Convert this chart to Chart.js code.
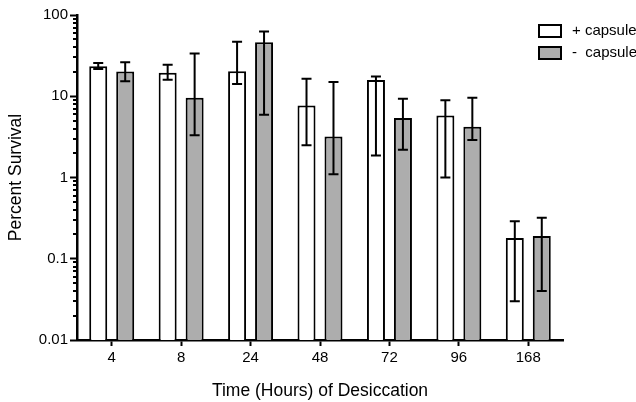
<!DOCTYPE html>
<html>
<head>
<meta charset="utf-8">
<script src="https://cdn.jsdelivr.net/npm/chart.js@4"></script>
<style>
  html, body { margin: 0; padding: 0; background: #fff; }
  #wrap { width: 636px; height: 402px; }
</style>
</head>
<body>
<div id="wrap"><canvas id="Grafica" width="636" height="402"></canvas></div>
<script>
// values (percent survival, log scale)
const hours = ['4', '8', '24', '48', '72', '96', '168'];
const plusMean = [23.4, 19.4, 20.3, 7.7, 15.9, 5.8, 0.18];
const plusHigh = [25.7, 24.5, 46.7, 16.4, 17.5, 8.9, 0.29];
const plusLow = [21.7, 16.0, 14.2, 2.5, 1.86, 1.0, 0.030];
const minusMean = [20.1, 9.6, 46.2, 3.2, 5.4, 4.2, 0.19];
const minusHigh = [26.2, 33.5, 62.5, 15.0, 9.3, 9.6, 0.32];
const minusLow = [15.3, 3.3, 5.9, 1.1, 2.2, 2.9, 0.040];
const decades = [0.01, 0.1, 1, 10, 100];

const FONT = '"Liberation Sans", Arial, Helvetica, sans-serif';

// error bars drawn on top of the bars
const errorBars = {
    id: 'errorBars',
    afterDatasetsDraw(chart) {
        const ctx = chart.ctx;
        const y = chart.scales.y;
        chart.data.datasets.forEach((ds, i) => {
            const meta = chart.getDatasetMeta(i);
            meta.data.forEach((bar, j) => {
                const top = y.getPixelForValue(ds.errHigh[j]);
                const bot = y.getPixelForValue(ds.errLow[j]);
                ctx.save();
                ctx.strokeStyle = '#000';
                ctx.lineWidth = 2;
                ctx.beginPath();
                ctx.moveTo(bar.x, top);
                ctx.lineTo(bar.x, bot);
                ctx.moveTo(bar.x - 5, top);
                ctx.lineTo(bar.x + 5, top);
                ctx.moveTo(bar.x - 5, bot);
                ctx.lineTo(bar.x + 5, bot);
                ctx.stroke();
                ctx.restore();
            });
        });
    }
};

// short minor ticks 2..9 in each decade on the y axis
const minorTicks = {
    id: 'minorTicks',
    afterDraw(chart) {
        const ctx = chart.ctx;
        const y = chart.scales.y;
        const x0 = chart.chartArea.left;
        ctx.save();
        ctx.strokeStyle = '#000';
        ctx.lineWidth = 2;
        ctx.beginPath();
        for (let d = 0; d < decades.length - 1; d++) {
            for (let k = 2; k <= 9; k++) {
                const py = Math.round(y.getPixelForValue(decades[d] * k));
                ctx.moveTo(x0 - 4, py);
                ctx.lineTo(x0, py);
            }
        }
        ctx.stroke();
        ctx.restore();
    }
};

// legend in the top right corner
const cornerLegend = {
    id: 'cornerLegend',
    afterDraw(chart) {
        const ctx = chart.ctx;
        const names = ['+ capsule', '-  capsule'];
        ctx.save();
        ctx.font = '15px ' + FONT;
        ctx.textBaseline = 'middle';
        chart.data.datasets.forEach((ds, i) => {
            const by = 25 + i * 22;
            ctx.fillStyle = ds.backgroundColor;
            ctx.fillRect(539, by, 22, 12);
            ctx.strokeStyle = '#000';
            ctx.lineWidth = 2;
            ctx.strokeRect(539, by, 22, 12);
            ctx.fillStyle = '#000';
            ctx.fillText(names[i], 572, by + 6);
        });
        ctx.restore();
    }
};

const config = {
    type: 'bar',
    data: {
        labels: hours,
        datasets: [
            {
                label: '+ capsule',
                data: plusMean,
                errHigh: plusHigh,
                errLow: plusLow,
                backgroundColor: '#ffffff',
                borderColor: '#000000',
                borderWidth: 2,
                categoryPercentage: 0.777,
                barPercentage: 0.667
            },
            {
                label: '- capsule',
                data: minusMean,
                errHigh: minusHigh,
                errLow: minusLow,
                backgroundColor: '#adadad',
                borderColor: '#000000',
                borderWidth: 2,
                categoryPercentage: 0.777,
                barPercentage: 0.667
            }
        ]
    },
    options: {
        responsive: false,
        animation: false,
        layout: { padding: { left: 0, right: 73, top: 15, bottom: 0 } },
        plugins: {
            legend: { display: false },
            tooltip: { enabled: false }
        },
        scales: {
            x: {
                offset: true,
                grid: { offset: false, drawOnChartArea: false, drawTicks: true, tickLength: 6, tickWidth: 2, tickColor: '#000' },
                border: { display: true, color: '#000', width: 2.5 },
                ticks: { color: '#000', font: { family: FONT, size: 15 }, padding: 3 },
                title: { display: true, text: 'Time (Hours) of Desiccation', color: '#000', font: { family: FONT, size: 17.5 }, padding: { top: 0, bottom: 0 } },
                afterFit(scale) { scale.height = 62; }
            },
            y: {
                type: 'logarithmic',
                min: 0.01,
                max: 100,
                afterBuildTicks(scale) { scale.ticks = decades.map(v => ({ value: v })); },
                grid: { drawOnChartArea: false, drawTicks: true, tickLength: 7, tickWidth: 2, tickColor: '#000' },
                border: { display: true, color: '#000', width: 2.5 },
                ticks: {
                    color: '#000',
                    font: { family: FONT, size: 15 },
                    padding: 2,
                    callback: (v) => String(v)
                },
                title: { display: true, text: 'Percent Survival', color: '#000', font: { family: FONT, size: 17.5 }, padding: { top: 6, bottom: 0 } },
                afterFit(scale) { scale.width = 77; }
            }
        }
    },
    plugins: [errorBars, minorTicks, cornerLegend]
};

new Chart(document.getElementById('Grafica').getContext('2d'), config);
</script>
</body>
</html>
